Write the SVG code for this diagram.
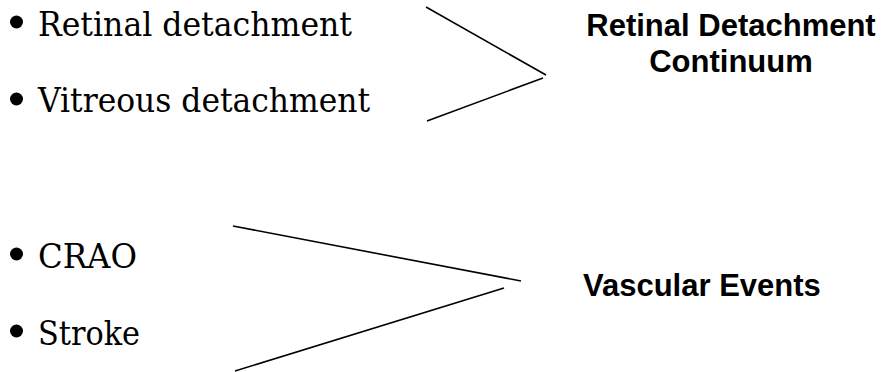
<svg xmlns="http://www.w3.org/2000/svg" width="886" height="372" viewBox="0 0 886 372">
<style>
.item{font-family:"DejaVu Serif","Liberation Serif",serif;font-size:33px;fill:#000}
.label{font-family:"Liberation Sans",Arial,sans-serif;font-size:31px;font-weight:bold;fill:#000}
.conn line{stroke:#000;stroke-width:1.6;fill:none}
</style>
<rect width="886" height="372" fill="#fff"/>
<g id="retinal-detachment"><circle cx="16.5" cy="22" r="6.5"/><text class="item" x="38" y="36" textLength="314" lengthAdjust="spacingAndGlyphs">Retinal detachment</text></g>
<g id="vitreous-detachment"><circle cx="16.5" cy="99" r="6.5"/><text class="item" x="38" y="112" textLength="332" lengthAdjust="spacingAndGlyphs">Vitreous detachment</text></g>
<g id="crao"><circle cx="16.5" cy="254" r="6.5"/><text class="item" x="38" y="268" textLength="99" lengthAdjust="spacingAndGlyphs">CRAO</text></g>
<g id="stroke"><circle cx="16.5" cy="331" r="6.5"/><text class="item" x="38" y="345" textLength="102" lengthAdjust="spacingAndGlyphs">Stroke</text></g>
<g id="rd-continuum"><text class="label" x="731" y="36" text-anchor="middle">Retinal Detachment</text><text class="label" x="731" y="72" text-anchor="middle">Continuum</text></g>
<g id="vascular-events"><text class="label" x="583" y="296">Vascular Events</text></g>
<g class="conn" id="connectors">
<line x1="426" y1="7" x2="546" y2="75"/>
<line x1="427" y1="121" x2="543" y2="78"/>
<line x1="233" y1="226" x2="521" y2="281"/>
<line x1="235" y1="371" x2="504" y2="288"/>
</g>
</svg>
